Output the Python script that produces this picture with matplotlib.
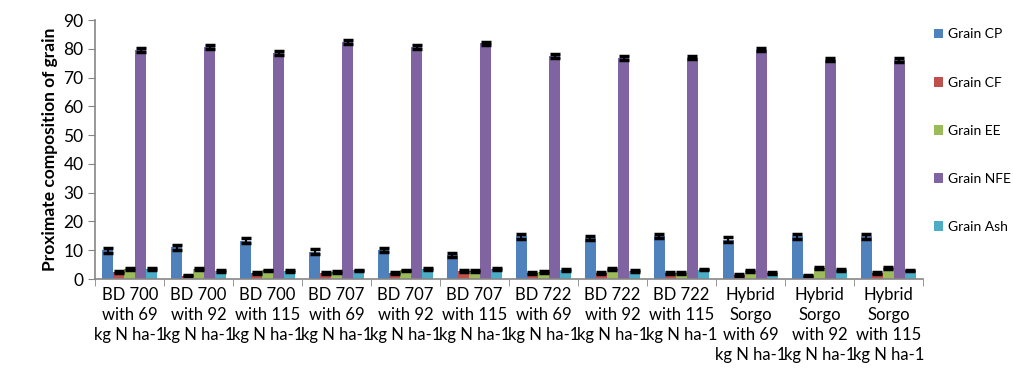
import numpy as np
import matplotlib.pyplot as plt

plt.rcParams['font.family'] = ['Lato', 'DejaVu Sans']

categories = [
    'BD 700\nwith 69\nkg N ha-1', 'BD 700\nwith 92\nkg N ha-1', 'BD 700\nwith 115\nkg N ha-1',
    'BD 707\nwith 69\nkg N ha-1', 'BD 707\nwith 92\nkg N ha-1', 'BD 707\nwith 115\nkg N ha-1',
    'BD 722\nwith 69\nkg N ha-1', 'BD 722\nwith 92\nkg N ha-1', 'BD 722\nwith 115\nkg N ha-1',
    'Hybrid\nSorgo\nwith 69\nkg N ha-1', 'Hybrid\nSorgo\nwith 92\nkg N ha-1', 'Hybrid\nSorgo\nwith 115\nkg N ha-1',
]
series = ['Grain CP', 'Grain CF', 'Grain EE', 'Grain NFE', 'Grain Ash']
grain_cp = [10.0, 11.0, 13.3, 9.5, 10.0, 8.3, 14.8, 14.2, 15.0, 13.7, 14.8, 14.8]
grain_cf = [2.5, 1.2, 2.0, 2.0, 2.0, 2.8, 2.0, 2.2, 2.0, 1.5, 1.2, 2.0]
grain_ee = [3.5, 3.5, 3.0, 2.5, 3.0, 2.8, 2.5, 3.5, 2.0, 2.8, 3.8, 3.8]
grain_nfe = [79.5, 80.7, 78.5, 82.5, 80.5, 82.0, 77.5, 76.8, 77.0, 79.7, 76.3, 76.0]
grain_ash = [3.5, 2.8, 2.8, 3.0, 3.5, 3.5, 3.2, 2.8, 3.3, 2.0, 3.2, 3.0]
err_cp = [0.9, 0.8, 0.8, 0.8, 0.7, 0.8, 0.8, 0.8, 0.8, 0.8, 0.8, 0.8]
err_cf = [0.3, 0.3, 0.3, 0.3, 0.3, 0.3, 0.3, 0.3, 0.3, 0.3, 0.3, 0.3]
err_ee = [0.3, 0.3, 0.3, 0.3, 0.3, 0.3, 0.3, 0.3, 0.3, 0.3, 0.3, 0.3]
err_nfe = [0.7, 0.7, 0.7, 0.7, 0.7, 0.5, 0.8, 0.7, 0.6, 0.6, 0.6, 0.7]
err_ash = [0.3, 0.3, 0.3, 0.3, 0.3, 0.3, 0.3, 0.3, 0.3, 0.3, 0.3, 0.3]

values = [grain_cp, grain_cf, grain_ee, grain_nfe, grain_ash]
errors = [err_cp, err_cf, err_ee, err_nfe, err_ash]
colors = ['#4F81BD', '#C0504D', '#9BBB59', '#8064A2', '#4BACC6']

fig = plt.figure(figsize=(10.13, 3.73), dpi=100)
ax = fig.add_axes([0.094, 0.252, 0.817, 0.694])

x = np.arange(len(categories))
w = 0.16
for i, (name, vals, errs, c) in enumerate(zip(series, values, errors, colors)):
    ax.bar(x + (i - 2) * w, vals, w, color=c, label=name,
           yerr=errs, capsize=3.5,
           error_kw=dict(ecolor='black', elinewidth=1.5, capthick=2.5))

ax.set_xlim(-0.5, len(categories) - 0.5)
ax.set_ylim(0, 90)
ax.set_yticks(range(0, 91, 10))
ax.tick_params(axis='y', labelsize=12.5, direction='out', length=5, color='#868686')
ax.set_xticks(x)
ax.set_xticklabels(categories, fontsize=12, linespacing=1.3)
ax.tick_params(axis='x', length=0, pad=6)
ax.set_xticks(np.arange(-0.5, len(categories), 1), minor=True)
ax.tick_params(axis='x', which='minor', direction='out', length=5, color='#868686')
for s in ['top', 'right']:
    ax.spines[s].set_visible(False)
for s in ['left', 'bottom']:
    ax.spines[s].set_color('#868686')
    ax.spines[s].set_linewidth(1.2)
ax.set_ylabel('Proximate composition of grain', fontsize=12.5, fontweight='bold')

ax.legend(loc='upper left', bbox_to_anchor=(1.003, 1.0), frameon=False,
          fontsize=10, handlelength=0.7, handleheight=0.7, handletextpad=0.3,
          labelspacing=2.6, borderaxespad=0.2)

fig.savefig('out.png', dpi=100)
